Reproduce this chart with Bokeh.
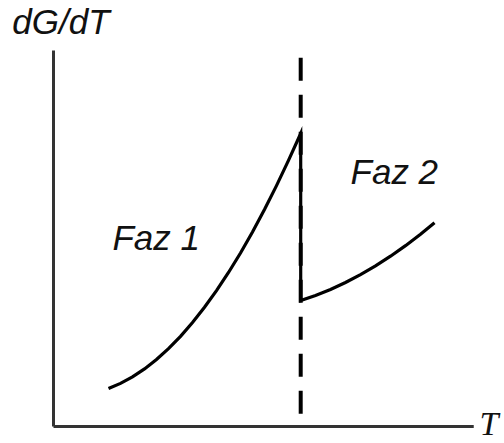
from bokeh.plotting import figure
from bokeh.models import Range1d
from bokeh.core.properties import value
from bokeh.embed import file_html
from bokeh.resources import INLINE

# Phase 1 branch of dG/dT versus T (rises to the transition temperature)
faz1_T = [1.335, 1.626, 1.917, 2.209, 2.500, 2.791, 3.083, 3.374, 3.665,
          3.956, 4.248, 4.539, 4.830, 5.121, 5.413, 5.704, 6.0]
faz1_g = [1.011, 1.146, 1.319, 1.532, 1.782, 2.072, 2.399, 2.766, 3.170,
          3.614, 4.096, 4.614, 5.173, 5.771, 6.407, 7.077, 7.793]

# Phase 2 branch, starting after the jump at the transition
faz2_T = [6.0, 6.359, 6.723, 7.087, 7.451, 7.816, 8.180, 8.544, 8.908, 9.248]
faz2_g = [3.351, 3.487, 3.646, 3.830, 4.040, 4.271, 4.529, 4.809, 5.114, 5.420]

# Transition temperature and axis extents
T_transition = 6.0
T_axis_max = 10.2
g_axis_max = 10.0
dash_bottom, dash_top = 0.29, 9.81

labels_text = ["Faz 1", "Faz 2"]
labels_T = [1.43, 7.21]
labels_g = [5.02, 6.78]

sx, sy = 41.2, 37.6
p = figure(
    width=504, height=443,
    x_range=Range1d(-53 / sx, (504 - 53) / sx),
    y_range=Range1d(-(443 - 426) / sy, 426 / sy),
    output_backend="svg", toolbar_location=None,
    x_axis_location=None, y_axis_location=None,
    min_border=0,
)
p.grid.visible = False
p.outline_line_color = None
p.background_fill_color = "white"
p.border_fill_color = "white"

# Axis lines
axis_color = "#333333"
p.line([0, 0], [0, g_axis_max], line_color=axis_color, line_width=3)
p.line([0, T_axis_max], [0, 0], line_color=axis_color, line_width=3)

# Dashed marker at the transition temperature
p.line([T_transition, T_transition], [dash_top, dash_bottom],
       line_color="black", line_width=4, line_dash="23 14")

# Curve: phase 1, vertical drop, phase 2
curve_T = faz1_T + faz2_T
curve_g = faz1_g + faz2_g
p.line(curve_T, curve_g, line_color="black", line_width=3.2,
       line_join="miter")

# Phase labels
p.text(x=labels_T, y=labels_g, text=labels_text,
       text_font=value("Liberation Sans"), text_font_style="italic",
       text_font_size="35px", text_color="#111111",
       text_baseline="alphabetic", text_align="left")

# Axis titles
p.text(x=[-1.0], y=[10.77], text=["dG/dT"],
       text_font=value("Liberation Sans"), text_font_style="italic",
       text_font_size="35px", text_color="#111111",
       text_baseline="alphabetic", text_align="left")
p.text(x=[10.34], y=[0.08], text=["T"],
       text_font=value("Liberation Serif"), text_font_style="italic",
       text_font_size="34px", text_color="#111111",
       text_baseline="alphabetic", text_align="left")

open("out.html", "w").write(file_html(p, INLINE))
